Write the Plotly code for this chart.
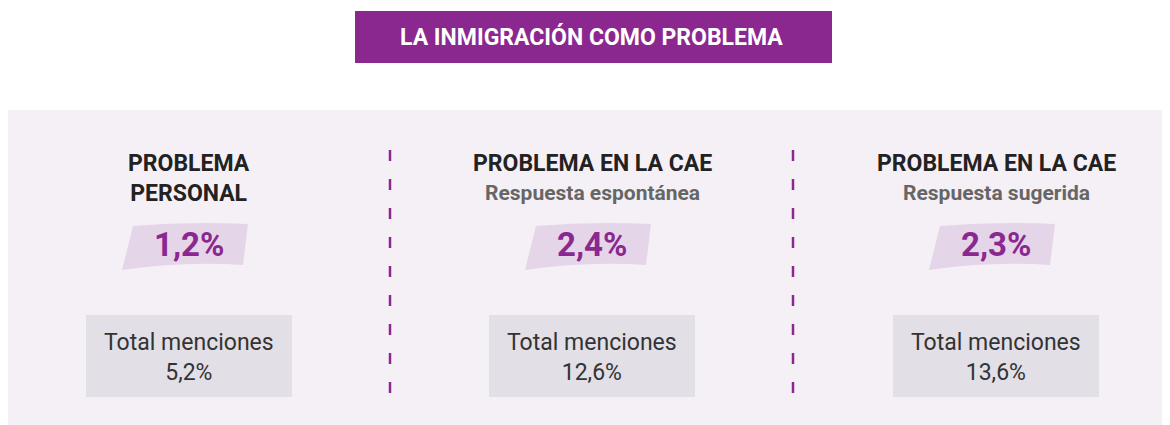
import plotly.graph_objects as go

# Datos de la infografía
titulo = "LA INMIGRACIÓN COMO PROBLEMA"
titulos = ["PROBLEMA<br>PERSONAL", "PROBLEMA EN LA CAE", "PROBLEMA EN LA CAE"]
subtitulos = ["", "Respuesta espontánea", "Respuesta sugerida"]
valores = [1.2, 2.4, 2.3]
totales = [5.2, 12.6, 13.6]

W, H = 1170, 425
OFF = 8  # margen del body de la página
centros = [189, 592, 996]
separadores = [390, 793]

MORADO = '#8B288F'
FONDO = '#F5F0F6'
GRIS_CAJA = '#E2DFE6'
BROCHA = '#E5D5E9'
FUENTE = 'Roboto'


def fmt(v):
    return f"{v:.1f}".replace('.', ',') + '%'


fig = go.Figure()
shapes = []
annotations = []

# Panel de fondo
shapes.append(dict(type='rect', x0=8, x1=W + 10, y0=110, y1=H + 10,
                   fillcolor=FONDO, line_width=0, layer='below'))

# Barra del título
shapes.append(dict(type='rect', x0=355, x1=832, y0=11, y1=63,
                   fillcolor=MORADO, line_width=0))
annotations.append(dict(x=591, y=37, text=f"<b>{titulo}</b>", showarrow=False,
                        font=dict(family=FUENTE, size=23, color='white')))

# Separadores discontinuos
for xs in separadores:
    shapes.append(dict(type='line', x0=xs, x1=xs, y0=150, y1=396,
                       line=dict(color=MORADO, width=2.5, dash='11px,18px')))

for i, c in enumerate(centros):
    # Título de la columna
    if subtitulos[i]:
        annotations.append(dict(x=c, y=163, text=f"<b>{titulos[i]}</b>", showarrow=False,
                                font=dict(family=FUENTE, size=23, color='#222222')))
        annotations.append(dict(x=c, y=193, text=f"<b>{subtitulos[i]}</b>", showarrow=False,
                                font=dict(family=FUENTE, size=21, color='#666666')))
    else:
        annotations.append(dict(x=c, y=178, text=f"<b>{titulos[i]}</b>", showarrow=False,
                                font=dict(family=FUENTE, size=23, color='#222222')))

    # Brochazo detrás del porcentaje
    path = (f"M {c-67},270 L {c-56},226 Q {c},221 {c+59},224 "
            f"L {c+54},265 Q {c-5},261 {c-67},270 Z")
    shapes.append(dict(type='path', path=path, fillcolor=BROCHA, line_width=0))
    annotations.append(dict(x=c, y=244, text=f"<b>{fmt(valores[i])}</b>", showarrow=False,
                            font=dict(family=FUENTE, size=33, color=MORADO)))

    # Caja de total menciones
    shapes.append(dict(type='rect', x0=c-103, x1=c+103, y0=315, y1=397,
                       fillcolor=GRIS_CAJA, line_width=0))
    annotations.append(dict(x=c, y=357, text=f"Total menciones<br>{fmt(totales[i])}",
                            showarrow=False,
                            font=dict(family=FUENTE, size=23, color='#333333')))

fig.update_layout(
    width=W - OFF, height=H - OFF,
    margin=dict(l=0, r=0, t=0, b=0),
    paper_bgcolor='white',
    plot_bgcolor='white',
    shapes=shapes,
    annotations=annotations,
    showlegend=False,
    xaxis=dict(range=[OFF, W], visible=False, fixedrange=True),
    yaxis=dict(range=[H, OFF], visible=False, fixedrange=True),
)

fig.write_html("out.html")
